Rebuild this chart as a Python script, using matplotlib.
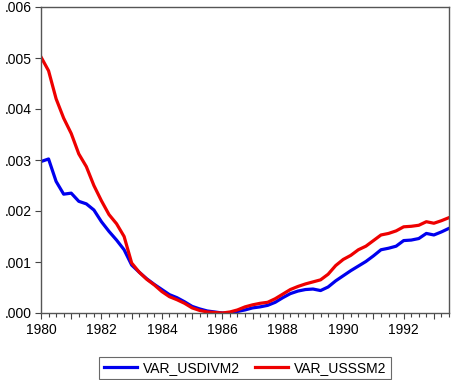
import matplotlib
matplotlib.use("Agg")
import matplotlib.pyplot as plt
import numpy as np
from matplotlib.ticker import MultipleLocator, FuncFormatter

# quarterly series 1980Q1 .. 1993Q3 (units of 1e-3)
start_year = 1980
var_usdivm2 = [2.97, 3.02, 2.58, 2.33, 2.35, 2.19, 2.14, 2.02, 1.79, 1.60,
               1.43, 1.24, 0.94, 0.80, 0.67, 0.56, 0.46, 0.36, 0.30, 0.22,
               0.13, 0.08, 0.04, 0.02, 0.00, 0.00, 0.03, 0.06, 0.10, 0.12,
               0.15, 0.21, 0.30, 0.38, 0.43, 0.46, 0.47, 0.44, 0.51, 0.63,
               0.73, 0.83, 0.92, 1.01, 1.12, 1.24, 1.27, 1.31, 1.42, 1.43,
               1.46, 1.56, 1.53, 1.59, 1.66]
var_usssm2 = [5.02, 4.75, 4.20, 3.82, 3.52, 3.12, 2.87, 2.50, 2.20, 1.93,
              1.75, 1.50, 0.98, 0.80, 0.66, 0.55, 0.42, 0.32, 0.26, 0.19,
              0.10, 0.05, 0.02, 0.01, 0.00, 0.02, 0.06, 0.12, 0.16, 0.19,
              0.21, 0.28, 0.37, 0.46, 0.52, 0.57, 0.61, 0.65, 0.76, 0.93,
              1.05, 1.13, 1.24, 1.31, 1.42, 1.53, 1.56, 1.61, 1.69, 1.70,
              1.72, 1.79, 1.76, 1.81, 1.87]
series_names = ["VAR_USDIVM2", "VAR_USSSM2"]

plt.rcParams['font.family'] = ['Liberation Sans', 'DejaVu Sans']

t = start_year + 0.25 * np.arange(len(var_usdivm2))
blue = np.array(var_usdivm2) / 1000
red = np.array(var_usssm2) / 1000

fig = plt.figure(figsize=(4.54, 3.80), dpi=100)
ax = fig.add_axes([41 / 454, 1 - 313 / 380, 408 / 454, 306 / 380])

ax.plot(t, blue, color="#0000ee", linewidth=2.3, label=series_names[0])
ax.plot(t, red, color="#ee0000", linewidth=2.3, label=series_names[1])

ax.set_xlim(1980, 1993.5)
ax.set_ylim(0, 0.006)
ax.yaxis.set_major_locator(MultipleLocator(0.001))
ax.yaxis.set_major_formatter(FuncFormatter(lambda v, p: ("%.3f" % v)[1:]))
ax.xaxis.set_major_locator(MultipleLocator(1))
ax.xaxis.set_minor_locator(MultipleLocator(0.25))
ax.xaxis.set_major_formatter(FuncFormatter(lambda v, p: "%d" % round(v) if round(v) % 2 == 0 else ""))

ax.tick_params(axis="both", which="major", direction="out", length=4.5, width=0.8,
               color="#444444", labelsize=10, pad=2)
ax.tick_params(axis="x", which="major", pad=3)
ax.tick_params(axis="x", which="minor", direction="out", length=2.8, width=0.8, color="#444444")
for s in ax.spines.values():
    s.set_color("#555555")
    s.set_linewidth(1.0)

leg = fig.legend(loc="center", bbox_to_anchor=(245 / 454, 1 - 368 / 380), ncol=2,
                 fontsize=10, frameon=True, fancybox=False, handlelength=2.4,
                 columnspacing=1.1, handletextpad=0.4, borderpad=0.3)
leg.get_frame().set_edgecolor("#444444")
leg.get_frame().set_linewidth(0.8)

fig.savefig("out.png", dpi=100)
